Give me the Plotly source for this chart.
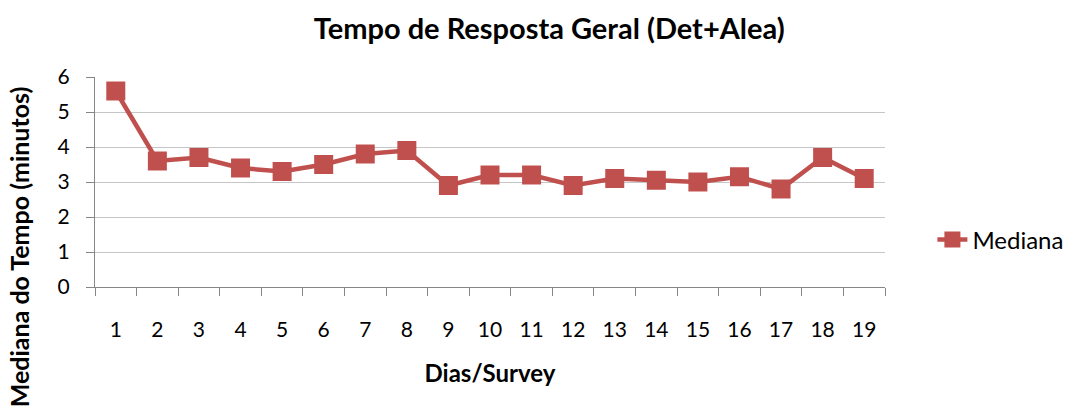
import plotly.graph_objects as go

# Median response time per survey day
dias = [str(i) for i in range(1, 20)]
mediana = [5.6, 3.6, 3.7, 3.4, 3.3, 3.5, 3.8, 3.9, 2.9, 3.2,
           3.2, 2.9, 3.1, 3.05, 3.0, 3.15, 2.8, 3.7, 3.1]
y_ticks = [0, 1, 2, 3, 4, 5, 6]

FONT = "Lato"
RED = "#C0504D"
GRID = "#C6C6C6"
AXIS = "#868686"

fig = go.Figure()
fig.add_trace(go.Scatter(
    x=dias, y=mediana, mode="lines+markers", name="Mediana",
    line=dict(color=RED, width=4.5),
    marker=dict(symbol="square", size=19, color=RED),
))

fig.update_layout(
    width=1085, height=412,
    margin=dict(l=95, r=200, t=77, b=125),
    paper_bgcolor="white", plot_bgcolor="white",
    font=dict(family=FONT, color="black"),
    title=dict(text="<b>Tempo de Resposta Geral (Det+Alea)</b>",
               x=0.575, xref="paper", xanchor="center",
               y=0.93, yanchor="middle", font=dict(size=29)),
    showlegend=True,
    legend=dict(x=1.06, xanchor="left", y=0.224, yanchor="middle",
                font=dict(size=24), bgcolor="rgba(0,0,0,0)"),
)

fig.update_xaxes(
    type="category", range=[-0.5, len(dias) - 0.5],
    tickson="boundaries", ticks="outside", ticklen=8,
    tickcolor=AXIS, showline=True, linecolor=AXIS, linewidth=1,
    showgrid=False, tickfont=dict(size=21), ticklabelstandoff=24,
    title=dict(text="<b>Dias/Survey</b>", font=dict(size=24), standoff=24),
    fixedrange=True,
)
fig.update_yaxes(
    range=[0, 6], tickvals=y_ticks, ticks="outside", ticklen=8,
    tickcolor=AXIS, showline=True, linecolor=AXIS, linewidth=1,
    showgrid=True, gridcolor=GRID, gridwidth=1, zeroline=False,
    tickfont=dict(size=21), ticklabelstandoff=12, fixedrange=True,
)

fig.add_annotation(
    text="<b>Mediana do Tempo (minutos)</b>", textangle=-90,
    xref="paper", yref="paper", x=-0.096, y=0.19,
    xanchor="center", yanchor="middle", showarrow=False,
    font=dict(size=25),
)

fig.write_html("out.html")
